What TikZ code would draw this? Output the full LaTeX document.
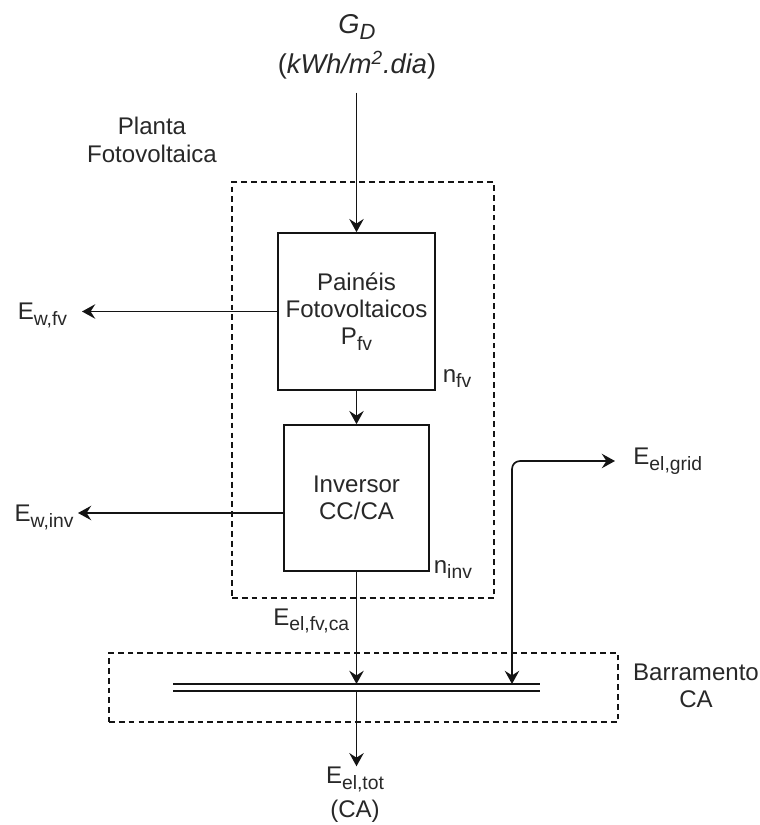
\documentclass[tikz,border=0pt]{standalone}
\usepackage{fontspec}
\setmainfont{Liberation Sans}
\usetikzlibrary{arrows.meta,positioning,fit}
\definecolor{ink}{RGB}{20,20,20}
\definecolor{txt}{RGB}{40,40,40}
\newcommand{\lo}[1]{\raisebox{-3.4pt}{\fontsize{11}{11}\selectfont #1}}
\tikzset{
  every picture/.style={color=ink, line width=0.95pt, font=\fontsize{13.7}{15.5}\selectfont},
  blk/.style={draw=ink, fill=white, text=txt, align=center, inner sep=0pt},
  zone/.style={draw=ink, dash pattern=on 3.3pt off 2.3pt, line width=0.95pt, inner sep=0pt},
  lbl/.style={text=txt, align=center, inner sep=0pt},
  flow/.style={-{Stealth[length=7.5pt,width=8.2pt,inset=2.6pt]}},
  both/.style={{Stealth[length=7.5pt,width=8.2pt,inset=2.6pt]}-{Stealth[length=7.5pt,width=8.2pt,inset=2.6pt]}},
  bus/.style={double=white, double distance=3pt, line width=0.95pt},
}

\begin{document}
\begin{tikzpicture}[x=0.02cm, y=-0.02cm]
  \useasboundingbox (0,0) rectangle (760,825);
  % plant with its two blocks
  \node[zone, fit={(232,182) (494,598)}] (plant) {};
  \node[lbl] (planta) at (152,140) {Planta\\Fotovoltaica};
  \node[blk, minimum width=3.14cm, minimum height=3.14cm] (pv) at (356.5,311.5) {Painéis\\Fotovoltaicos\\P\lo{fv}};
  \node[blk, minimum width=2.9cm, minimum height=2.92cm] (inv) at (356.5,498) {Inversor\\CC/CA};
  \node[lbl, anchor=base west] (nfv) at (442,382) {n\lo{fv}};
  \node[lbl, anchor=base west] (ninv) at (433,573) {n\lo{inv}};
  % irradiation in
  \node[lbl, font=\fontsize{15.5}{18}\selectfont] (gd) at (357,47) {\textit{G}\raisebox{-3.6pt}{\fontsize{12.5}{12.5}\selectfont\textit{D}}\\[5pt](\textit{kWh/m}\textsuperscript{\textit{2}}\textit{.dia})};
  \draw[flow, shorten <=7pt] (pv |- gd.south) -- (pv);
  \draw[flow] (pv) -- (inv);
  % losses
  \node[lbl, anchor=east, inner xsep=8pt] (ewfv) at (82,315) {E\lo{w,fv}};
  \node[lbl, anchor=east, inner xsep=2pt] (ewinv) at (78,517) {E\lo{w,inv}};
  \coordinate (invw) at ([yshift=-0.3cm]inv.west);
  \draw[flow] (pv.west) -- (pv.west -| ewfv.east);
  \draw[flow] (invw) -- (invw -| ewinv.east);
  % AC bus
  \node[zone, fit={(109,653) (618,722)}] (buszone) {};
  \node[lbl] (barr) at (696,686) {Barramento\\CA};
  \coordinate (busL) at (173,687.5);
  \coordinate (busR) at (540,687.5);
  \draw[bus] (busL) -- (busR);
  \coordinate (busin) at (356.5,684);
  \coordinate (busout) at (356.5,691);
  \coordinate (busgrid) at (512,684);
  \draw[flow] (inv) -- (busin);
  \node[lbl, anchor=base east] (efvca) at (350,625) {E\lo{el,fv,ca}};
  \node[lbl] (etot) at (355,795) {E\lo{el,tot}\\[4pt](CA)};
  \draw[flow] (busout) -- (busout |- etot.north);
  \node[lbl, anchor=west, inner xsep=10pt] (egrid) at (615,461) {E\lo{el,grid}};
  \draw[both, rounded corners=0.16cm] (busgrid) |- (egrid.west);
\end{tikzpicture}
\end{document}
